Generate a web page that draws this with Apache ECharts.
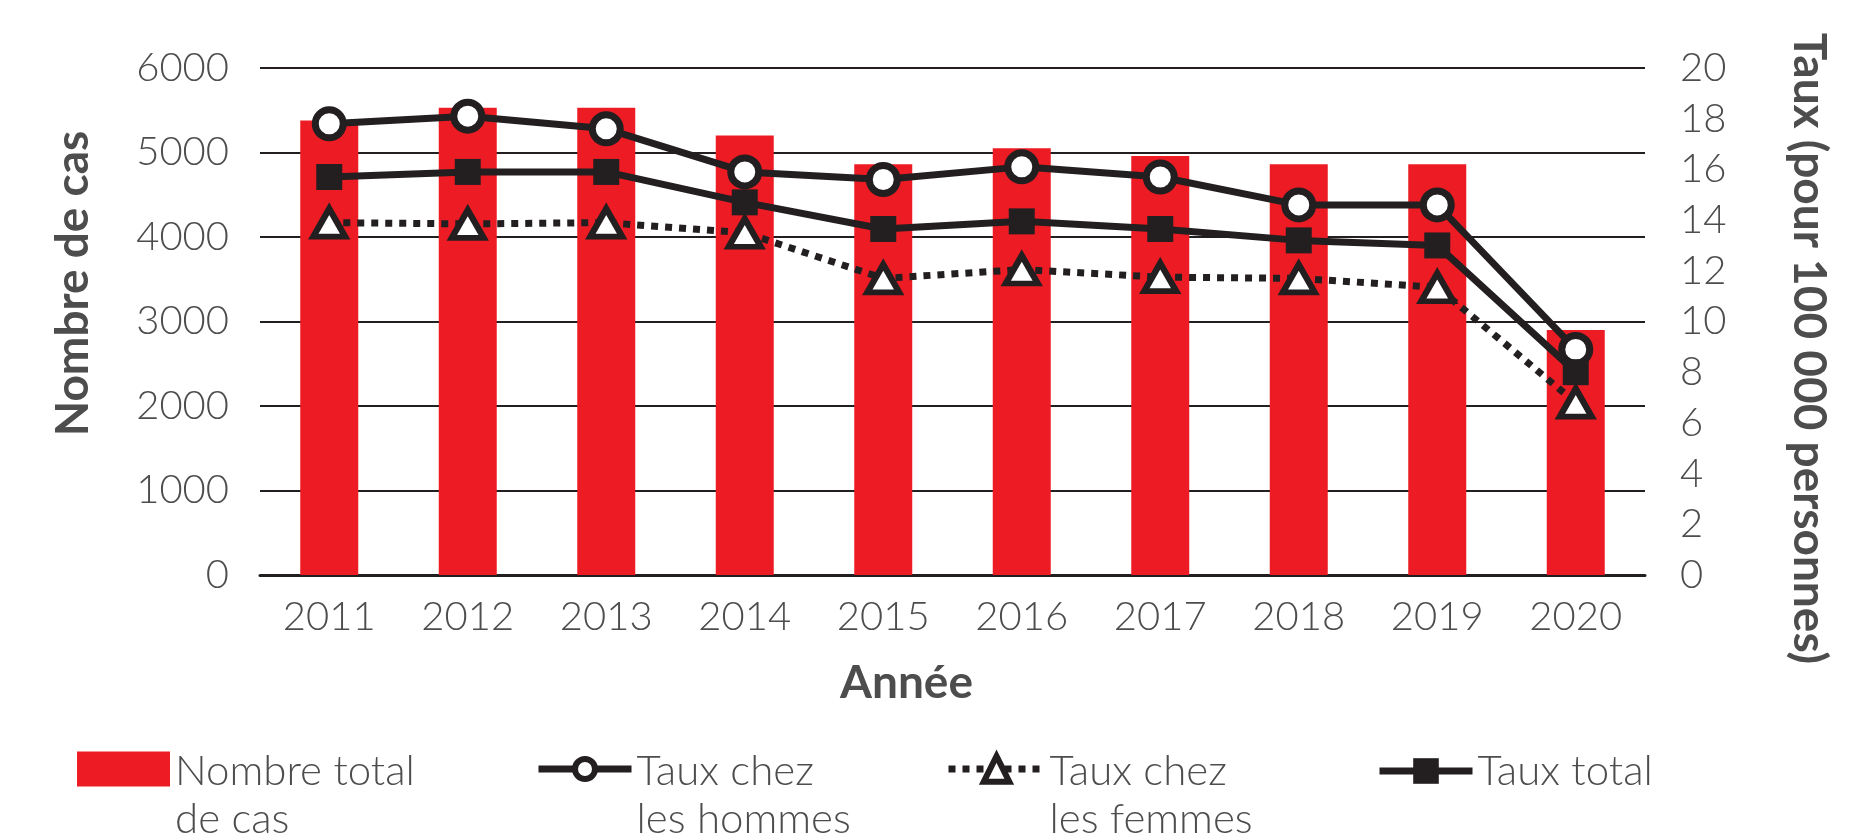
<!DOCTYPE html>
<html>
<head>
<meta charset="UTF-8">
<title>Nombre de cas et taux</title>
<script src="https://cdn.jsdelivr.net/npm/echarts@6/dist/echarts.min.js"></script>
<style>
  html, body { margin: 0; padding: 0; background: #fff; }
  #chart { width: 1849px; height: 839px; }
</style>
</head>
<body>
<div id="chart"></div>
<script>
// données
var annees = ['2011', '2012', '2013', '2014', '2015', '2016', '2017', '2018', '2019', '2020'];
var nombreCas = [5380, 5530, 5530, 5200, 4860, 5050, 4960, 4860, 4860, 2900];
var tauxHommes = [17.8, 18.1, 17.6, 15.9, 15.6, 16.1, 15.7, 14.6, 14.6, 8.9];
var tauxFemmes = [13.9, 13.85, 13.9, 13.5, 11.7, 12.05, 11.75, 11.7, 11.35, 6.8];
var tauxTotal = [15.7, 15.9, 15.9, 14.7, 13.65, 13.95, 13.65, 13.2, 13.0, 8.0];

var noir = '#231f20';
var gris = '#4d4d4d';
var rouge = '#ed1c24';
var police = 'Lato';

var chart = echarts.init(document.getElementById('chart'));

// une légende par série ; la 1re ligne du texte est au niveau du symbole
function legende(nom, left, w, h, extra) {
  var deuxLignes = nom.indexOf('\n') >= 0;
  return Object.assign({
    data: [nom],
    left: left,
    top: 745,
    itemWidth: w,
    itemHeight: h,
    selectedMode: false,
    formatter: function (n) {
      return n.split('\n').map(function (l) { return '{a|' + l + '}'; }).join('\n');
    },
    textStyle: {
      fontFamily: police, fontSize: 42, fontWeight: 300, color: gris,
      padding: deuxLignes ? [52, 0, 0, 0] : 0,
      rich: { a: { fontFamily: police, fontSize: 42, fontWeight: 300, color: gris, lineHeight: 48 } }
    }
  }, extra || {});
}

var nomStyle = { fontFamily: police, fontSize: 46, fontWeight: 'bold', color: gris };
var tickStyle = { fontFamily: police, fontSize: 40, fontWeight: 300, color: gris };

var option = {
  animation: false,
  grid: { left: 260, right: 204, top: 68, bottom: 264 },
  legend: [
    legende('Nombre total\nde cas', 72, 93, 35, { icon: 'rect' }),
    legende('Taux chez\nles hommes', 530, 93, 25, { itemStyle: { borderWidth: 6 }, lineStyle: { width: 7 } }),
    legende('Taux chez\nles femmes', 940, 96, 32, { itemStyle: { borderWidth: 6 }, lineStyle: { width: 7 } }),
    legende('Taux total', 1371, 93, 32, { itemStyle: { borderWidth: 0 }, lineStyle: { width: 7 } })
  ],
  xAxis: {
    type: 'category',
    data: annees,
    axisLine: { lineStyle: { color: noir, width: 3 } },
    axisTick: { show: false },
    axisLabel: Object.assign({ margin: 22 }, tickStyle),
    name: 'Année',
    nameLocation: 'middle',
    nameGap: 85,
    nameTextStyle: Object.assign({ padding: [0, 92, 0, 0] }, nomStyle)
  },
  yAxis: [{
    type: 'value',
    min: 0, max: 6000, interval: 1000,
    axisLine: { show: false },
    axisTick: { show: false },
    splitLine: { lineStyle: { color: noir, width: 2 } },
    axisLabel: Object.assign({ margin: 31, formatter: function (v) { return String(v); } }, tickStyle),
    name: 'Nombre de cas',
    nameLocation: 'middle',
    nameGap: 164,
    nameTextStyle: Object.assign({ padding: [0, 0, 0, 76] }, nomStyle)
  }, {
    type: 'value',
    min: 0, max: 20, interval: 2,
    axisLine: { show: false },
    axisTick: { show: false },
    splitLine: { show: false },
    axisLabel: Object.assign({ margin: 35 }, tickStyle),
    name: 'Taux (pour 100 000 personnes)',
    nameLocation: 'middle',
    nameRotate: -90,
    nameGap: 141,
    nameTextStyle: Object.assign({ padding: [0, 0, 0, 54] }, nomStyle)
  }],
  series: [{
    name: 'Nombre total\nde cas',
    type: 'bar',
    data: nombreCas,
    barWidth: 58,
    itemStyle: { color: rouge }
  }, {
    name: 'Taux chez\nles hommes',
    type: 'line',
    yAxisIndex: 1,
    data: tauxHommes,
    symbol: 'circle',
    symbolSize: 28,
    lineStyle: { color: noir, width: 7 },
    itemStyle: { color: '#fff', borderColor: noir, borderWidth: 7 },
    z: 4
  }, {
    name: 'Taux chez\nles femmes',
    type: 'line',
    yAxisIndex: 1,
    data: tauxFemmes,
    symbol: 'triangle',
    symbolSize: [32, 28],
    lineStyle: { color: noir, width: 7, type: [7, 7] },
    itemStyle: { color: '#fff', borderColor: noir, borderWidth: 6 },
    z: 3
  }, {
    name: 'Taux total',
    type: 'line',
    yAxisIndex: 1,
    data: tauxTotal,
    symbol: 'rect',
    symbolSize: 26,
    lineStyle: { color: noir, width: 7 },
    itemStyle: { color: noir, borderColor: noir, borderWidth: 0 },
    z: 5
  }]
};

chart.setOption(option);
</script>
</body>
</html>
